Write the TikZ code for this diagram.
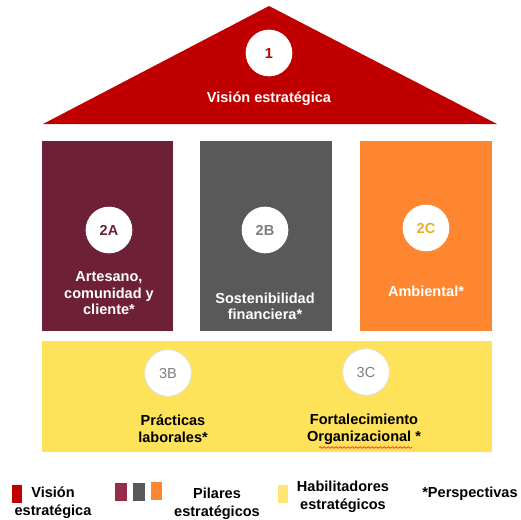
\documentclass[tikz,border=0pt]{standalone}
\usepackage{fontspec}
\setmainfont{Liberation Sans}
\usetikzlibrary{decorations.pathmorphing}
\definecolor{cRed}{HTML}{C00000}
\definecolor{cMaroon}{HTML}{6E2136}
\definecolor{cMaroonL}{HTML}{952C48}
\definecolor{cGrey}{HTML}{595959}
\definecolor{cOrange}{HTML}{FF8630}
\definecolor{cYellow}{HTML}{FDE25A}
\definecolor{cGold}{HTML}{EFAE1E}
\definecolor{cLabGrey}{HTML}{7F7F7F}
\tikzset{
  txt/.style={font=\fontsize{10.9}{12.4}\selectfont\bfseries, align=center, inner sep=0pt},
  legtxt/.style={font=\fontsize{10.9}{13.5}\selectfont\bfseries, align=center, inner sep=0pt},
  badge/.style={circle, fill=white, minimum size=35pt, inner sep=0pt, font=\fontsize{10.9}{12.4}\selectfont\bfseries},
  badgeo/.style={badge, draw=black!12, line width=0.6pt, font=\fontsize{10.9}{12.4}\selectfont},
}
\begin{document}
\begin{tikzpicture}[x=0.75pt,y=-0.75pt]
\useasboundingbox (0,0) rectangle (521,519);
% roof
\fill[cRed] (269,6) -- (497,124) -- (43,124) -- cycle;
\node[badge, text=cRed] (b1) at (269,53) {1};
\node[txt, text=white] (t1) at (269,99) {Visión estratégica};
% pillars
\fill[cMaroon] (42,141) rectangle (173,331);
\fill[cGrey] (200,141) rectangle (332,331);
\fill[cOrange] (360,141) rectangle (492,331);
\node[badge, text=cMaroon] (b2a) at (109,230) {2A};
\node[badge, text=cLabGrey] (b2b) at (265,230) {2B};
\node[badge, text=cGold] (b2c) at (426,228) {2C};
\node[txt, text=white] (t2a) at (109,293.5) {Artesano,\\comunidad y\\cliente*};
\node[txt, text=white] (t2b) at (265,306.5) {Sostenibilidad\\financiera*};
\node[txt, text=white] (t2c) at (426,291) {Ambiental*};
% foundation
\fill[cYellow] (42,341) rectangle (492,452);
\node[badgeo, text=cLabGrey] (b3b) at (168,373) {3B};
\node[badgeo, text=cLabGrey] (b3c) at (366,372) {3C};
\node[txt, text=black] (t3b) at (173,428.5) {Prácticas\\laborales*};
\node[txt, text=black] (t3c) at (364,429.5) {Fortalecimiento\\Organizacional *};
\draw[red!85!white, line width=0.5pt, decorate, decoration={snake, amplitude=0.6pt, segment length=3pt}] (319,447.5) -- (412,447.5);
% legend
\fill[cRed] (12,485) rectangle (22,503);
\node[legtxt, text=black] (l1) at (53,503) {Visión\\estratégica};
\fill[cMaroonL] (115,483) rectangle (127,501);
\fill[cGrey] (133,483) rectangle (145,501);
\fill[cOrange] (151,482) rectangle (162,500);
\node[legtxt, text=black] (l2) at (217,503.5) {Pilares\\estratégicos};
\fill[cYellow!85!white] (278,485) rectangle (288,503);
\node[legtxt, text=black] (l3) at (343,497) {Habilitadores\\estratégicos};
\node[legtxt, text=black] (l4) at (470,494) {*Perspectivas};
\end{tikzpicture}
\end{document}
